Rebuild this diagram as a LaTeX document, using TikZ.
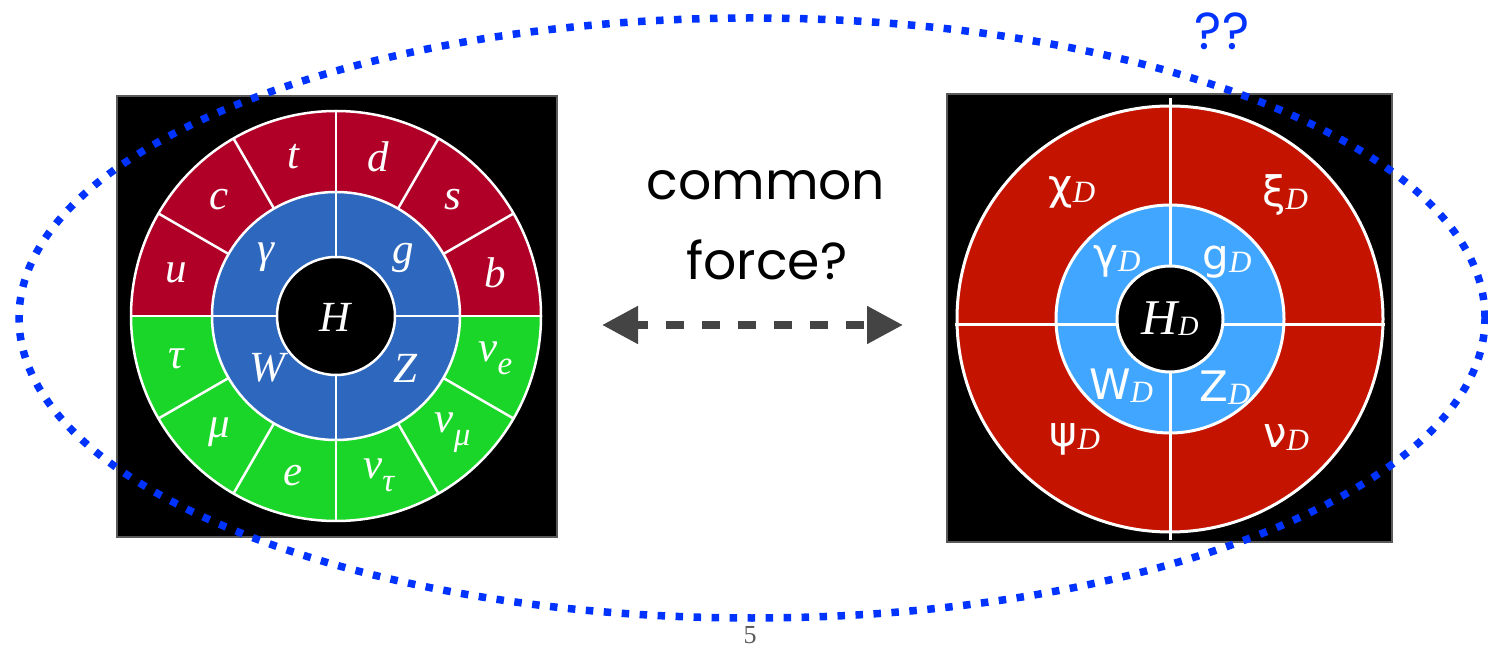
\documentclass[tikz,border=0pt]{standalone}
\usepackage{fontspec}
\setmainfont{Liberation Serif}
\newfontfamily\headfont{Poppins}
\newfontfamily\darkfont{DejaVu Sans}
\usetikzlibrary{arrows.meta}

\definecolor{quarkred}{HTML}{B00028}
\definecolor{bosonblue}{HTML}{2E68BE}
\definecolor{leptongreen}{HTML}{1AD628}
\definecolor{darkred}{HTML}{C41400}
\definecolor{darkblue}{HTML}{40A6FF}
\definecolor{ringblue}{HTML}{0033FF}
\definecolor{arrowgray}{HTML}{444444}
\definecolor{framegray}{HTML}{5A5A5A}

% italic particle symbol with a lowered index
\newcommand{\lsub}[2]{#1\raisebox{-13pt}{\fontsize{33}{33}\selectfont #2}}
% dark-sector symbol: upright sans letter with italic serif D
\newcommand{\dsub}[1]{{\darkfont #1}\raisebox{-3pt}{\fontsize{31}{31}\selectfont\itshape D}}

\tikzset{
  panel/.style={fill=black, draw=framegray, line width=1.5pt},
  sep/.style={draw=white, line width=2.5pt},
  sepwide/.style={draw=white, line width=3pt},
  smlabel/.style={text=white, font=\fontsize{43}{45}\selectfont\itshape, inner sep=0pt},
  dklabel/.style={text=white, font=\fontsize{42}{44}\selectfont, inner sep=0pt, anchor=base},
  headtext/.style={font=\headfont\fontsize{52}{60}\selectfont, inner sep=0pt, anchor=base},
}

\begin{document}
\begin{tikzpicture}[x=1pt, y=1pt]
\useasboundingbox (0,0) rectangle (1488,648);

% ---------- Standard Model wheel ----------
\draw[panel] (117,111) rectangle (557,552);
\begin{scope}[shift={(336,332)}]
  \fill[quarkred] (205,0) arc[start angle=0, end angle=180, radius=205] -- cycle;
  \fill[leptongreen] (-205,0) arc[start angle=180, end angle=360, radius=205] -- cycle;
  \foreach \a in {0,30,...,150} \draw[sep] (\a:205) -- (\a+180:205);
  \draw[sep] (0,0) circle[radius=205];
  \filldraw[fill=bosonblue, sep] (0,0) circle[radius=124];
  \draw[sep] (-124,0) -- (124,0) (0,-124) -- (0,124);
  \filldraw[fill=black, sep] (0,0) circle[radius=59];

  \foreach \n/\t [count=\i from 0] in
    {b/b, s/s, d/d, t/t, c/c, u/u, tau/τ, mu/μ, e/e,
     nutau/\lsub{ν}{τ}, numu/\lsub{ν}{μ}, nue/\lsub{ν}{e}}
    \node[smlabel] (\n) at (15+30*\i:165) {\t};

  \node[smlabel] (gamma) at (-70,59) {γ};
  \node[smlabel] (gluon) at (67,58) {g};
  \node[smlabel] (W) at (-69,-52) {W};
  \node[smlabel] (Z) at (69,-52) {Z};
  \node[smlabel] (H) at (-1,-1) {H};
\end{scope}

% ---------- dark-sector wheel ----------
\draw[panel] (947,106) rectangle (1392,554);
\begin{scope}[shift={(1170,329)}]
  \filldraw[fill=darkred, sepwide] (0,0) circle[radius=213];
  \filldraw[fill=darkblue, sepwide] (0,0) circle[radius=114];
  \draw[sepwide] (-215,-6) -- (215,-6);
  \draw[sepwide] (0,-221) -- (0,221);
  \filldraw[fill=black, sepwide] (0,0) circle[radius=53];
\end{scope}

\node[dklabel] (chiD) at (1072,448) {\dsub{χ}};
\node[dklabel] (xiD) at (1285,441) {\dsub{ξ}};
\node[dklabel] (gammaD) at (1117,379) {\dsub{γ}};
\node[dklabel] (gluonD) at (1227,378) {\dsub{g}};
\node[dklabel] (WD) at (1121,248) {\dsub{W}};
\node[dklabel] (ZD) at (1225,246) {\dsub{Z}};
\node[dklabel] (psiD) at (1075,201) {\dsub{ψ}};
\node[dklabel] (nuD) at (1286,200) {\dsub{ν}};
\node[dklabel, font=\fontsize{50}{52}\selectfont\itshape] (HD) at (1170,313)
  {H\kern1pt\raisebox{-1pt}{\fontsize{28}{28}\selectfont D}};

% ---------- central question ----------
\node[headtext] (common) at (766,448) {common};
\node[headtext] (force) at (767,368) {force?};
\coordinate (aL) at (602,323);
\coordinate (aR) at (903,323);
\draw[arrowgray, line width=8pt, dash pattern=on 18pt off 18pt, dash phase=6pt,
      {Triangle[length=36pt, width=36pt]}-{Triangle[length=36pt, width=36pt]}]
  (aL) -- (aR);

% ---------- enclosing dotted ellipse ----------
\draw[ringblue, line width=7.5pt, dash pattern=on 7.5pt off 10.5pt]
  (752,330) ellipse[x radius=733, y radius=300];
\node[headtext, text=ringblue, font=\headfont\fontsize{52}{56}\selectfont] (qq) at (1222,598) {??};

% page number
\node[anchor=base, inner sep=0pt, text=black!65, font=\fontsize{26}{28}\selectfont] (page) at (750,5) {5};
\end{tikzpicture}
\end{document}
